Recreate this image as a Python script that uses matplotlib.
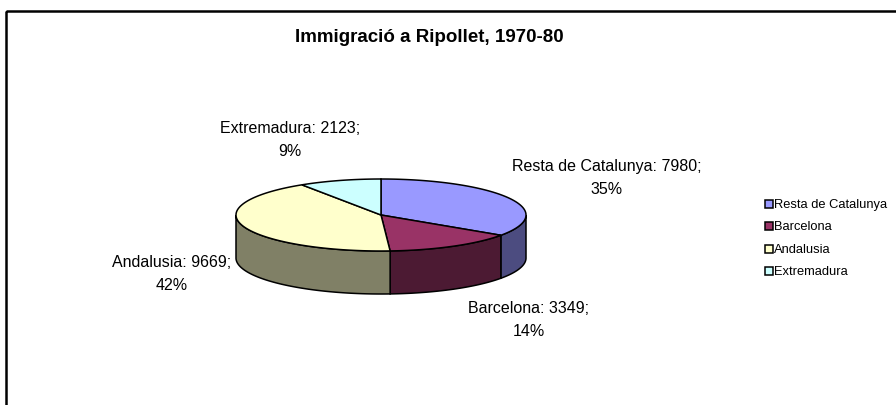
import numpy as np
import matplotlib
matplotlib.use("Agg")
import matplotlib.pyplot as plt
from matplotlib.patches import Polygon, Rectangle

plt.rcParams["font.family"] = ["Liberation Sans", "DejaVu Sans"]

# data
categories = ["Resta de Catalunya", "Barcelona", "Andalusia", "Extremadura"]
values     = [7980, 3349, 9669, 2123]
title      = "Immigració a Ripollet, 1970-80"

TOP_COLORS  = ["#9999FF", "#993366", "#FFFFCC", "#CCFFFF"]
SIDE_COLORS = ["#4C4C80", "#4C1A33", "#808066", "#668080"]

# pie geometry in pixels (y grows downward)
CX, CY = 381, 215
RA, RB = 145, 36
DEPTH  = 43

# label anchors (centre of each two-line label)
LABEL_POS = [(607, 178), (529, 320), (172, 274), (290, 140)]


def ell(t_deg, dy=0.0):
    t = np.radians(t_deg)
    return np.column_stack([CX + RA * np.cos(t), CY - RB * np.sin(t) + dy])


fig = plt.figure(figsize=(8.96, 4.05), dpi=100)
ax = fig.add_axes([0, 0, 1, 1])
ax.set_xlim(0, 896)
ax.set_ylim(405, 0)
ax.axis("off")

# outer chart frame
ax.add_patch(Rectangle((5.5, 10.5), 1000, 600, fill=False, ec="black", lw=1.8))

ax.text(429, 38, title, ha="center", va="center", fontsize=13.5, fontweight="bold")

total = float(sum(values))
fracs = [v / total for v in values]
starts, ends = [], []
t = 90.0
for f in fracs:
    starts.append(t)
    t -= f * 360.0
    ends.append(t)

# side walls (front half only: -180..0)
for i in range(len(values)):
    hi = min(starts[i], 0.0)
    lo = max(ends[i], -180.0)
    if lo >= hi:
        continue
    ts = np.linspace(hi, lo, 120)
    top = ell(ts)
    bot = ell(ts[::-1], DEPTH)
    ax.add_patch(Polygon(np.vstack([top, bot]), closed=True,
                         fc=SIDE_COLORS[i], ec="black", lw=1.1, zorder=2))

# top faces
for i in range(len(values)):
    ts = np.linspace(starts[i], ends[i], 160)
    pts = np.vstack([[CX, CY], ell(ts)])
    ax.add_patch(Polygon(pts, closed=True, fc=TOP_COLORS[i],
                         ec="black", lw=1.1, zorder=3))

# data labels
for i, (x, y) in enumerate(LABEL_POS):
    pct = int(round(fracs[i] * 100))
    ax.text(x, y, f"{categories[i]}: {values[i]};\n{pct}%", ha="center",
            va="center", fontsize=11.5, linespacing=1.6, zorder=5)

# legend
for i, name in enumerate(categories):
    y = 203 + i * 22.3
    ax.add_patch(Rectangle((764.5, y - 3), 8, 8, fc=TOP_COLORS[i], ec="black",
                           lw=1.1, zorder=5))
    ax.text(774, y + 5, name, ha="left", va="baseline", fontsize=9.3)

fig.savefig("out.png", dpi=100)
